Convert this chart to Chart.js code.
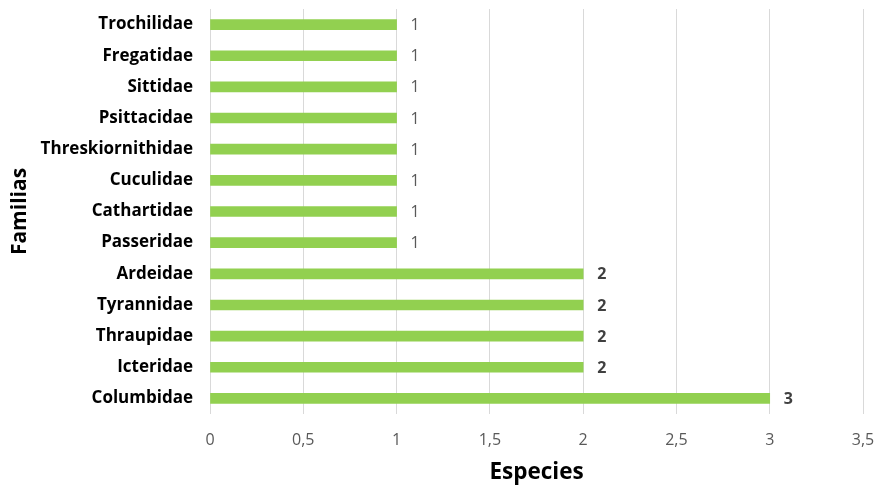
<!DOCTYPE html>
<html>
<head>
<meta charset="utf-8">
<script src="https://cdn.jsdelivr.net/npm/chart.js@4/dist/chart.umd.min.js"></script>
<style>
  html, body { margin: 0; padding: 0; background: #fff; }
  #wrap { width: 878px; height: 487px; }
</style>
</head>
<body>
<div id="wrap"><canvas id="myChart"></canvas></div>
<script>
var familias = ['Trochilidae', 'Fregatidae', 'Sittidae', 'Psittacidae', 'Threskiornithidae',
  'Cuculidae', 'Cathartidae', 'Passeridae', 'Ardeidae', 'Tyrannidae', 'Thraupidae',
  'Icteridae', 'Columbidae'];
var especies = [1, 1, 1, 1, 1, 1, 1, 1, 2, 2, 2, 2, 3];

var fontName = "'Open Sans', 'Noto Sans', sans-serif";

// value labels at the end of each bar
var barLabels = {
  id: 'barLabels',
  afterDatasetsDraw: function(chart) {
    var ctx = chart.ctx;
    var meta = chart.getDatasetMeta(0);
    ctx.save();
    ctx.textBaseline = 'middle';
    ctx.textAlign = 'left';
    meta.data.forEach(function(bar, i) {
      var v = especies[i];
      if (v > 1) {
        ctx.font = 'bold 16px ' + fontName;
        ctx.fillStyle = '#404040';
      } else {
        ctx.font = '16px ' + fontName;
        ctx.fillStyle = '#595959';
      }
      ctx.fillText(String(v), bar.x + 14, bar.y + 1);
    });
    ctx.restore();
  }
};

var ctx = document.getElementById('myChart').getContext('2d');
var myChart = new Chart(ctx, {
  type: 'bar',
  data: {
    labels: familias,
    datasets: [{
      label: 'Especies',
      data: especies,
      backgroundColor: '#92d050',
      barThickness: 10
    }]
  },
  plugins: [barLabels],
  options: {
    indexAxis: 'y',
    responsive: true,
    maintainAspectRatio: false,
    animation: false,
    layout: { padding: { top: 9, right: 0, bottom: 0, left: 0 } },
    plugins: {
      legend: { display: false },
      tooltip: { enabled: false }
    },
    scales: {
      x: {
        min: 0,
        max: 3.5,
        ticks: {
          stepSize: 0.5,
          color: '#595959',
          font: { family: fontName, size: 16 },
          padding: 17,
          callback: function(v) { return String(v).replace('.', ','); }
        },
        grid: { color: '#d9d9d9', lineWidth: 1, drawTicks: false },
        border: { display: false },
        title: {
          display: true,
          text: 'Especies',
          color: '#000',
          font: { family: fontName, size: 22.5, weight: 'bold' },
          padding: { top: 8, bottom: 1 }
        },
        afterFit: function(scale) {
          scale.height = 73;
          scale.paddingRight = 15;
          scale.paddingLeft = 0;
        }
      },
      y: {
        ticks: {
          color: '#000',
          font: { family: fontName, size: 17, weight: 'bold' },
          padding: 17
        },
        grid: { display: false, drawTicks: false },
        border: { display: false },
        title: {
          display: true,
          text: 'Familias',
          color: '#000',
          font: { family: fontName, size: 21, weight: 'bold' },
          padding: { top: 7, bottom: 0 }
        },
        afterFit: function(scale) {
          scale.width = 210;
          scale.paddingTop = 0;
          scale.paddingBottom = 0;
        }
      }
    }
  }
});
</script>
</body>
</html>
